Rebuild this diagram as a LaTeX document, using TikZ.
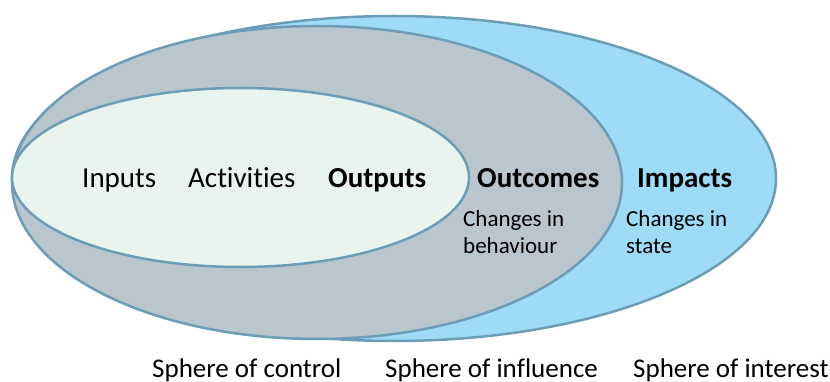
\documentclass[tikz,border=0pt]{standalone}
\usepackage{fontspec}
\setmainfont{Carlito}[Ligatures=NoCommon]
\definecolor{edgeblue}{HTML}{6C9DB7}
\definecolor{skyfill}{HTML}{9DDBF6}
\definecolor{grayfill}{HTML}{BAC6CE}
\definecolor{innerfill}{HTML}{E9F4EF}
\tikzset{
  sphere/.style={draw=edgeblue, line width=2.5pt},
  bigtxt/.style={anchor=base west, inner sep=0pt, font=\fontsize{29}{35}\selectfont},
  boldtxt/.style={bigtxt, font=\fontsize{29}{35}\selectfont\bfseries},
  smalltxt/.style={anchor=base west, inner sep=0pt, align=left, font=\fontsize{23}{27}\selectfont},
  spheretxt/.style={anchor=base west, inner sep=0pt, font=\fontsize{27}{32}\selectfont}
}
\begin{document}
\begin{tikzpicture}[x=1pt, y=-1pt]
\useasboundingbox (0,0) rectangle (830,382);
% ellipses
\draw[sphere, fill=skyfill] (394,178.5) ellipse [x radius=382pt, y radius=162.5pt];
\draw[sphere, fill=grayfill] (317,182.5) ellipse [x radius=305pt, y radius=156.5pt];
\draw[sphere, fill=innerfill] (240.5,177.5) ellipse [x radius=228.5pt, y radius=89.5pt];
% main row
\node[bigtxt] (inputs) at (82,188) {Inputs};
\node[bigtxt] (activities) at (188,188) {Activities};
\node[boldtxt] (outputs) at (328,188) {Outputs};
\node[boldtxt] (outcomes) at (477,188) {Outcomes};
\node[boldtxt] (impacts) at (637,188) {Impacts};
% sub texts
\node[smalltxt] (behav1) at (463,227) {Changes in};
\node[smalltxt] (behav2) at (463,254) {behaviour};
\node[smalltxt] (state1) at (626,227) {Changes in};
\node[smalltxt] (state2) at (626,254) {state};
% sphere labels
\node[spheretxt] (control) at (152,377) {Sphere of control};
\node[spheretxt] (influence) at (385,377) {Sphere of influence};
\node[spheretxt] (interest) at (633,377) {Sphere of interest};
\end{tikzpicture}
\end{document}
